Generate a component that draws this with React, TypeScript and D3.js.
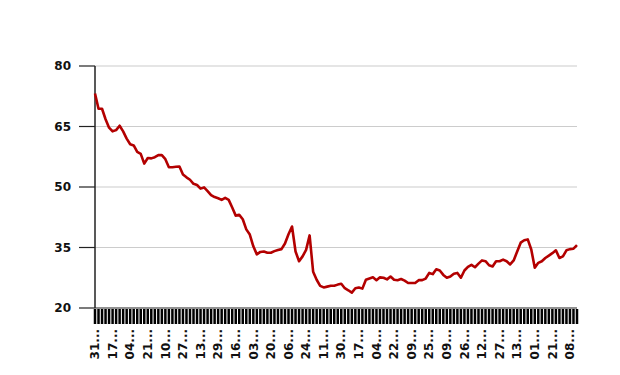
import * as d3 from "d3";

// series values, one per tick on the x axis
const values: number[] = [
  73.2, 69.4, 69.4, 66.8, 64.7, 63.8, 64.1, 65.2, 63.8, 62.0,
  60.6, 60.3, 58.7, 58.2, 55.8, 57.2, 57.1, 57.4, 57.9, 57.9,
  56.9, 54.9, 54.9, 55.0, 55.1, 53.1, 52.4, 51.8, 50.8, 50.5,
  49.6, 49.9, 49.0, 48.0, 47.5, 47.2, 46.8, 47.3, 46.8, 44.9,
  42.9, 43.1, 42.0, 39.5, 38.2, 35.3, 33.3, 33.9, 34.0, 33.7,
  33.7, 34.1, 34.4, 34.6, 36.0, 38.3, 40.2, 34.0, 31.6, 32.8,
  34.4, 38.0, 29.0, 27.0, 25.5, 25.1, 25.3, 25.5, 25.5, 25.8,
  26.0, 24.9, 24.4, 23.8, 24.9, 25.1, 24.8, 27.0, 27.3, 27.6,
  26.9, 27.6, 27.5, 27.1, 27.8, 27.0, 26.9, 27.2, 26.8, 26.2,
  26.2, 26.2, 26.9, 26.9, 27.3, 28.7, 28.4, 29.6, 29.3, 28.2,
  27.5, 27.8, 28.5, 28.7, 27.5, 29.3, 30.2, 30.7, 30.1, 31.0,
  31.8, 31.6, 30.6, 30.3, 31.6, 31.6, 32.0, 31.6, 30.8, 31.8,
  34.0, 36.2, 36.8, 37.0, 34.5, 30.0, 31.2, 31.6, 32.4, 33.0,
  33.6, 34.3, 32.4, 32.8, 34.3, 34.6, 34.7, 35.6,
];

// tick labels shown every fifth point (truncated in the chart)
const tickLabels: string[] = [
  "31", "17", "04", "21", "10", "27", "13", "29", "16", "03",
  "20", "06", "24", "11", "30", "17", "04", "22", "09", "25",
  "09", "26", "12", "27", "13", "01", "21", "08",
];
const labelEvery = 5;

const yTicks: number[] = [20, 35, 50, 65, 80];

export default function App() {
  const width = 620;
  const height = 375;
  const margin = { top: 66, right: 43, bottom: 67, left: 95 };
  const innerW = width - margin.left - margin.right;
  const innerH = height - margin.top - margin.bottom;

  const idx = values.map((_, i) => i);
  const x = d3.scalePoint<number>().domain(idx).range([0, innerW]).padding(0);
  const y = d3.scaleLinear().domain([20, 80]).range([innerH, 0]);

  const line = d3
    .line<number>()
    .x((_, i) => x(i)!)
    .y((d) => y(d));

  const font = "'DejaVu Sans', Verdana, sans-serif";

  return (
    <div style={{ position: "absolute", left: 0, top: 0 }}>
      <svg width={width} height={height} style={{ display: "block", background: "#fff" }}>
        <g transform={`translate(${margin.left},${margin.top})`}>
          {yTicks.map((t) => (
            <g key={t} transform={`translate(0,${y(t)})`}>
              {t !== 20 && <line x1={0} x2={innerW} stroke="#cccccc" strokeWidth={1.2} />}
              <line x1={-16} x2={0} stroke="#222" strokeWidth={1.2} />
              <text
                x={-24}
                dy="0.35em"
                textAnchor="end"
                fontFamily={font}
                fontWeight="bold"
                fontSize={12}
                fill="#111"
              >
                {t}
              </text>
            </g>
          ))}

          {idx.map((i) => (
            <line
              key={i}
              x1={x(i)}
              x2={x(i)}
              y1={innerH + 1}
              y2={innerH + 16}
              stroke="#000"
              strokeWidth={2.5}
            />
          ))}

          {tickLabels.map((lab, k) => {
            const px = x(k * labelEvery)!;
            return (
              <text
                key={k}
                transform={`translate(${px},${innerH + 21}) rotate(-90)`}
                textAnchor="end"
                dy="0.35em"
                fontFamily={font}
                fontWeight="bold"
                fontSize={12}
                fill="#111"
              >
                {`${lab}...`}
              </text>
            );
          })}

          <line x1={0} x2={innerW} y1={innerH} y2={innerH} stroke="#222" strokeWidth={1.2} />
          <line x1={0} x2={0} y1={0} y2={innerH} stroke="#222" strokeWidth={1.5} />

          <path
            d={line(values) ?? ""}
            fill="none"
            stroke="#b30000"
            strokeWidth={2.6}
            strokeLinejoin="round"
          />
        </g>
      </svg>
    </div>
  );
}
